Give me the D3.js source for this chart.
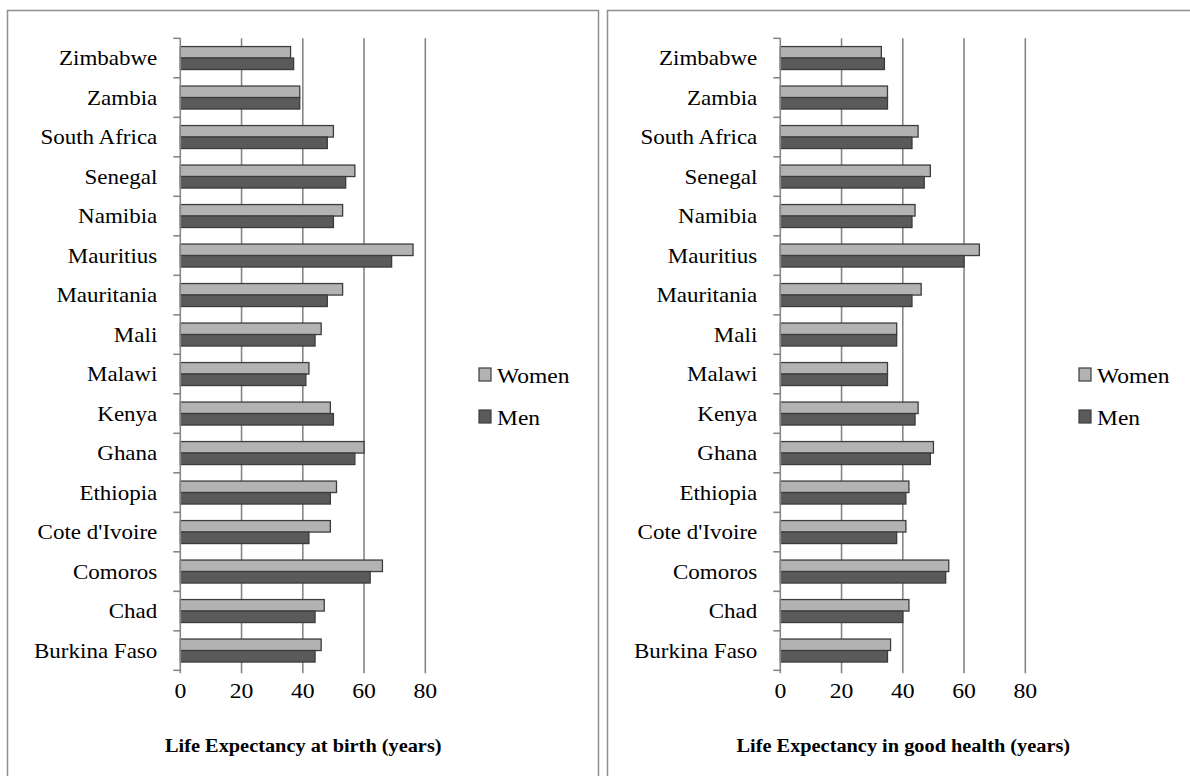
<!DOCTYPE html>
<html>
<head>
<meta charset="utf-8">
<script src="https://cdn.jsdelivr.net/npm/d3@7"></script>
<style>
  html, body { margin: 0; padding: 0; background: #fff; }
  svg { display: block; }
  text { font-family: "Liberation Serif", "Times New Roman", serif; fill: #000; }
</style>
</head>
<body>
<svg id="chart" width="1190" height="776"></svg>
<script>
// Countries, listed bottom to top as on the category axis
const countries = ["Burkina Faso", "Chad", "Comoros", "Cote d'Ivoire", "Ethiopia", "Ghana",
  "Kenya", "Malawi", "Mali", "Mauritania", "Mauritius", "Namibia", "Senegal",
  "South Africa", "Zambia", "Zimbabwe"];

// Life expectancy at birth (years)
const birthWomen = [46, 47, 66, 49, 51, 60, 49, 42, 46, 53, 76, 53, 57, 50, 39, 36];
const birthMen   = [44, 44, 62, 42, 49, 57, 50, 41, 44, 48, 69, 50, 54, 48, 39, 37];

// Life expectancy in good health (years)
const healthWomen = [36, 42, 55, 41, 42, 50, 45, 35, 38, 46, 65, 44, 49, 45, 35, 33];
const healthMen   = [35, 40, 54, 38, 41, 49, 44, 35, 38, 43, 60, 43, 47, 43, 35, 34];

const series = ["Women", "Men"];
const seriesFill = { Women: "#b3b3b3", Men: "#5a5a5a" };
const xTicks = [0, 20, 40, 60, 80];

const titles = ["Life Expectancy at birth (years)", "Life Expectancy in good health (years)"];

const svg = d3.select("#chart");

// text drawn slightly widened, anchored at (x, y)
function wideText(sel, x, y, sx) {
  return sel.attr("x", 0).attr("y", 0)
    .attr("transform", (d, i) => `translate(${x(d, i)},${y(d, i)}) scale(${sx},1)`);
}

function drawPanel(offsetX, women, men, title) {
  const g = svg.append("g").attr("transform", `translate(${offsetX},0)`);

  // panel frame (extends past the bottom of the view)
  g.append("rect")
    .attr("x", 7.5).attr("y", 10.5)
    .attr("width", 591).attr("height", 800)
    .attr("fill", "none").attr("stroke", "#8f8f8f").attr("stroke-width", 1.5);

  const left = 180.3, right = 425.3, top = 38.3, bottom = 670.3;

  const x = d3.scaleLinear().domain([0, 80]).range([left, right]);
  const y = d3.scaleBand()
    .domain(countries.slice().reverse())
    .range([top, bottom])
    .paddingInner(0.418)
    .paddingOuter(0.209);
  const ySub = d3.scaleBand().domain(series).range([0, y.bandwidth()]);

  // vertical gridlines
  g.append("g").selectAll("line")
    .data(xTicks.filter(d => d > 0))
    .join("line")
    .attr("x1", d => x(d)).attr("x2", d => x(d))
    .attr("y1", top).attr("y2", bottom + 3)
    .attr("stroke", "#868686").attr("stroke-width", 1.6);

  // bars
  const rows = countries.map((c, i) => ({ country: c, Women: women[i], Men: men[i] }));
  const groups = g.append("g").selectAll("g")
    .data(rows)
    .join("g")
    .attr("transform", d => `translate(0,${y(d.country)})`);
  groups.selectAll("rect")
    .data(d => series.map(s => ({ key: s, value: d[s] })))
    .join("rect")
    .attr("x", x(0))
    .attr("y", d => ySub(d.key))
    .attr("width", d => x(d.value) - x(0))
    .attr("height", ySub.bandwidth())
    .attr("fill", d => seriesFill[d.key])
    .attr("stroke", "#3c3c3c")
    .attr("stroke-width", 1.3);

  // category axis
  const step = y.step();
  const boundaries = d3.range(countries.length + 1).map(i => top + i * step);
  g.append("line")
    .attr("x1", left).attr("x2", left)
    .attr("y1", top).attr("y2", bottom + 3)
    .attr("stroke", "#868686").attr("stroke-width", 1.6);
  g.append("g").selectAll("line")
    .data(boundaries)
    .join("line")
    .attr("x1", left - 7).attr("x2", left)
    .attr("y1", d => d).attr("y2", d => d)
    .attr("stroke", "#868686").attr("stroke-width", 1.6);

  g.append("g").selectAll("text")
    .data(countries)
    .join("text")
    .attr("text-anchor", "end")
    .attr("font-size", 20)
    .text(d => d)
    .call(wideText, () => left - 23, d => y(d) + y.bandwidth() / 2 + 7, 1.15);

  // value axis tick labels
  g.append("g").selectAll("text")
    .data(xTicks)
    .join("text")
    .attr("text-anchor", "middle")
    .attr("font-size", 21)
    .text(d => d)
    .call(wideText, d => x(d), () => 698, 1.13);

  // axis title
  g.append("text")
    .datum(title)
    .attr("text-anchor", "middle")
    .attr("font-size", 18)
    .attr("font-weight", "bold")
    .text(d => d)
    .call(wideText, () => (left + right) / 2 + 0.5, () => 752, 1.13);

  // legend
  const legend = g.append("g").selectAll("g")
    .data(series)
    .join("g")
    .attr("transform", (d, i) => `translate(479,${368 + i * 42})`);
  legend.append("rect")
    .attr("width", 12).attr("height", 13)
    .attr("fill", d => seriesFill[d])
    .attr("stroke", "#3c3c3c").attr("stroke-width", 1.2);
  legend.append("text")
    .attr("font-size", 21)
    .text(d => d)
    .call(wideText, () => 18, () => 15, 1.12);
}

drawPanel(0, birthWomen, birthMen, titles[0]);
drawPanel(600, healthWomen, healthMen, titles[1]);
</script>
</body>
</html>
